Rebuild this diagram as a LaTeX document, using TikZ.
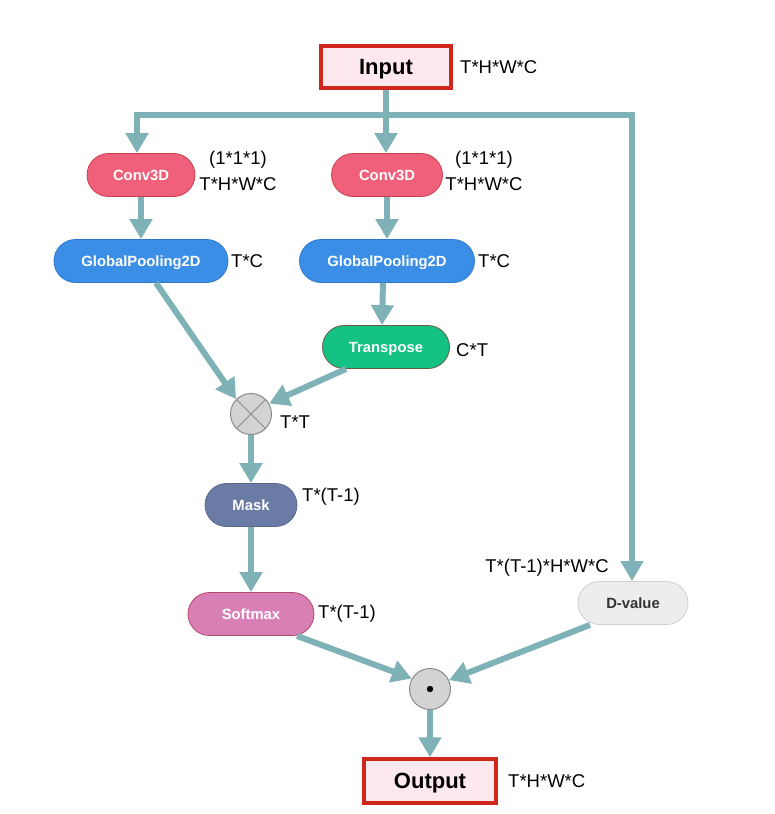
\documentclass[tikz,border=0pt]{standalone}
\usepackage{fontspec}
\setmainfont{Liberation Sans}
\usetikzlibrary{arrows.meta}
\definecolor{arr}{HTML}{7FB2B6}
\definecolor{convc}{HTML}{F0607A}
\definecolor{convb}{HTML}{C8404F}
\definecolor{gpc}{HTML}{3A8EE6}
\definecolor{gpb}{HTML}{2F78CC}
\definecolor{trc}{HTML}{14C384}
\definecolor{trb}{HTML}{6A5A40}
\definecolor{maskc}{HTML}{6A7BA6}
\definecolor{softc}{HTML}{D880B5}
\definecolor{softb}{HTML}{B4486A}
\definecolor{dvc}{HTML}{EDEDED}
\definecolor{dvb}{HTML}{CFCFCF}
\definecolor{iofill}{HTML}{FDE8EE}
\definecolor{iob}{HTML}{D0271D}
\definecolor{circf}{HTML}{D3D3D3}
\definecolor{circb}{HTML}{8A8A8A}
\tikzset{
  x=1pt, y=-1pt,
  conn/.style={draw=arr, line width=6pt, -{Triangle[width=22pt,length=20pt]}},
  line/.style={draw=arr, line width=6pt},
  pill/.style={rounded corners=21.5pt, minimum height=43pt, inner sep=0pt, line width=0.8pt,
    text height=10.6pt, text depth=0pt,
    font=\fontsize{14.8}{16}\selectfont\bfseries, text=white},
  iobox/.style={draw=iob, fill=iofill, line width=3.5pt, minimum width=130pt, minimum height=42pt,
    inner sep=0pt, text height=15.8pt, text depth=0pt,
    font=\fontsize{22}{24}\selectfont\bfseries},
  lab/.style={font=\fontsize{18.5}{20}\selectfont, inner sep=0pt, align=center},
  opc/.style={circle, draw=circb, fill=circf, line width=1pt, minimum size=41pt, inner sep=0pt}
}
\begin{document}
\begin{tikzpicture}
\useasboundingbox (0,0) rectangle (774,814);
% nodes
\node[iobox] (input) at (386,67) {Input};
\node[lab, anchor=west] (linput) at (460,67) {T*H*W*C};
\node[pill, fill=convc, draw=convb, minimum width=108pt] (conv1) at (141,175) {Conv3D};
\node[pill, fill=convc, draw=convb, minimum width=111pt] (conv2) at (387,175) {Conv3D};
\node[lab] (lc1a) at (238,160) {(1*1*1)};
\node[lab] (lc1b) at (238,184) {T*H*W*C};
\node[lab] (lc2a) at (484,160) {(1*1*1)};
\node[lab] (lc2b) at (484,184) {T*H*W*C};
\node[pill, fill=gpc, draw=gpb, minimum width=174pt] (gp1) at (141,261) {GlobalPooling2D};
\node[pill, fill=gpc, draw=gpb, minimum width=175pt] (gp2) at (387,261) {GlobalPooling2D};
\node[lab, anchor=west] (lgp1) at (231,261) {T*C};
\node[lab, anchor=west] (lgp2) at (478,261) {T*C};
\node[pill, fill=trc, draw=trb, minimum width=127pt] (tr) at (386,347) {Transpose};
\node[lab, anchor=west] (ltr) at (456,350) {C*T};
\node[opc] (ot) at (251,414) {};
\draw[circb, line width=1pt] (ot.45) -- (ot.225) (ot.135) -- (ot.315);
\node[lab, anchor=west] (lot) at (280,422) {T*T};
\node[pill, fill=maskc, draw=maskc!85!black, minimum width=92pt] (mask) at (251,505) {Mask};
\node[lab, anchor=west] (lmask) at (302,497) {T*(T-1)};
\node[pill, fill=softc, draw=softb, minimum width=126pt] (soft) at (251,614) {Softmax};
\node[lab, anchor=west] (lsoft) at (318,614) {T*(T-1)};
\node[pill, fill=dvc, draw=dvb, minimum width=110pt, text=black!80] (dv) at (633,603) {D-value};
\node[lab] (ldv) at (547,568) {T*(T-1)*H*W*C};
\node[opc] (od) at (430,689) {};
\fill (od.center) circle (3.2pt);
\node[iobox, minimum width=132pt, minimum height=44pt] (output) at (430,781) {Output};
\node[lab, anchor=west] (lout) at (508,781) {T*H*W*C};
% connectors
\coordinate (jl) at (137,115);
\coordinate (jm) at (386,115);
\coordinate (jr) at (632,115);
\draw[line] (input.south) -- (jm);
\draw[conn] (jr) -- (jl) -- (jl |- conv1.north);
\draw[conn] (jl) -- (jr) -- (jr |- dv.north);
\draw[conn] (jm) -- (jm |- conv2.north);
\draw[conn] (conv1.south) -- (gp1.north);
\draw[conn] (conv2.south) -- (gp2.north);
\draw[conn] ([xshift=-4pt]gp2.south) -- ([xshift=-4pt]tr.north);
\draw[conn] ([xshift=15pt]gp1.south) -- (ot.135);
\draw[conn] ([xshift=-40pt]tr.south) -- (ot.30);
\draw[conn] (ot.south) -- (mask.north);
\draw[conn] (mask.south) -- (soft.north);
\draw[conn] ([xshift=46pt]soft.south) -- (od.150);
\draw[conn] ([xshift=-43pt]dv.south) -- (od.25);
\draw[conn] (od.south) -- (output.north);
\end{tikzpicture}
\end{document}
